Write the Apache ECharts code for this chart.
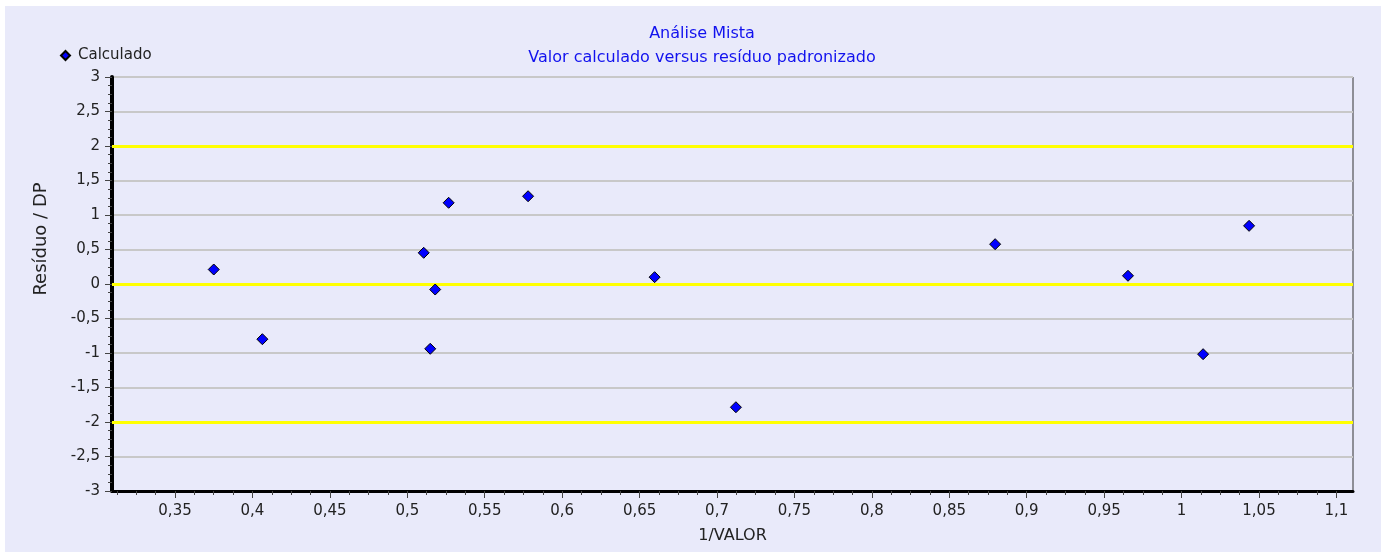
<!DOCTYPE html>
<html>
<head>
<meta charset="utf-8">
<script src="https://cdn.jsdelivr.net/npm/echarts@6/dist/echarts.min.js"></script>
<style>
  html, body { margin: 0; padding: 0; background: #ffffff; }
  #panel { position: absolute; left: 5px; top: 6px; width: 1376px; height: 546px; background: #E9EAFA; }
  #chart { position: absolute; left: 0; top: 0; width: 1387px; height: 552px; }
</style>
</head>
<body>
<div id="panel"></div>
<div id="chart"></div>
<script>
// ---- data ----
var titleLines = ['Análise Mista', 'Valor calculado versus resíduo padronizado'];
var seriesName = 'Calculado';
var xName = '1/VALOR';
var yName = 'Resíduo / DP';
var xValues = [0.375, 0.4064, 0.5106, 0.518, 0.5148, 0.5267, 0.578, 0.6597, 0.7122, 0.8796, 0.9654, 1.0139, 1.0436];
var yValues = [0.21, -0.80, 0.452, -0.08, -0.939, 1.177, 1.272, 0.099, -1.786, 0.577, 0.119, -1.017, 0.843];
var xTicks = [0.35, 0.4, 0.45, 0.5, 0.55, 0.6, 0.65, 0.7, 0.75, 0.8, 0.85, 0.9, 0.95, 1, 1.05, 1.1];
var yTicks = [-3, -2.5, -2, -1.5, -1, -0.5, 0, 0.5, 1, 1.5, 2, 2.5, 3];
var limitLines = [2, 0, -2];
var xMin = 0.3093, xMax = 1.1107;

// minor x ticks: 4 subdivisions of each major step
var xMinor = [];
var step = xTicks[1] - xTicks[0];
for (var v = xTicks[0] - step; v <= xMax + 1e-9; v += step / 4) {
  var r = Math.round(v * 10000) / 10000;
  if (r >= xMin && r <= xMax) xMinor.push(r);
}

function fmt(v) { return String(+(+v).toFixed(4)).replace('.', ','); }

var FONT = 'DejaVu Sans';
var chart = echarts.init(document.getElementById('chart'), null, { renderer: 'canvas' });
var points = xValues.map(function (x, i) { return [x, yValues[i]]; });

chart.setOption({
  backgroundColor: 'transparent',
  animation: false,
  title: {
    text: titleLines.join('\n'),
    left: 697,
    textAlign: 'center',
    top: 17,
    textStyle: { fontFamily: FONT, fontSize: 16, fontWeight: 'normal', color: '#1212EE', lineHeight: 24 }
  },
  legend: {
    data: [seriesName],
    left: 55,
    top: 43,
    icon: 'diamond',
    itemWidth: 9,
    itemHeight: 9,
    textStyle: { fontFamily: FONT, fontSize: 15, color: '#222', padding: [0, 0, 0, 3] }
  },
  grid: {
    left: 112, top: 77, right: 34, bottom: 61,
    show: true, borderColor: '#333', borderWidth: 1, backgroundColor: 'transparent'
  },
  xAxis: [{
    type: 'value',
    min: xMin, max: xMax,
    name: xName,
    nameLocation: 'middle',
    nameGap: 37,
    nameTextStyle: { fontFamily: FONT, fontSize: 16, color: '#222' },
    axisLine: { show: true, onZero: false, lineStyle: { color: '#000', width: 3 } },
    axisTick: { show: true, customValues: xTicks, length: 7, lineStyle: { color: '#444', width: 1 } },
    axisLabel: { show: true, customValues: xTicks, margin: 13, formatter: fmt,
      fontFamily: FONT, fontSize: 15, color: '#222' },
    splitLine: { show: false }
  }, {
    type: 'value',
    min: xMin, max: xMax,
    position: 'bottom',
    axisLine: { show: false, onZero: false },
    axisTick: { show: true, customValues: xMinor, length: 4, lineStyle: { color: '#444', width: 1 } },
    axisLabel: { show: false },
    splitLine: { show: false }
  }],
  yAxis: [{
    type: 'value',
    min: yTicks[0], max: yTicks[yTicks.length - 1],
    interval: yTicks[1] - yTicks[0],
    name: yName,
    nameLocation: 'middle',
    nameGap: 62,
    nameRotate: 90,
    nameTextStyle: { fontFamily: FONT, fontSize: 18, color: '#222', padding: [0, 0, 0, 90] },
    axisLine: { show: true, onZero: false, lineStyle: { color: '#000', width: 4 } },
    axisTick: { show: true, length: 7, lineStyle: { color: '#444', width: 1 } },
    minorTick: { show: true, splitNumber: 4, length: 4, lineStyle: { color: '#444', width: 1 } },
    axisLabel: { margin: 12, formatter: fmt, fontFamily: FONT, fontSize: 15, color: '#222' },
    splitLine: { show: true, lineStyle: { color: '#C8C8C8', width: 2 } }
  }],
  series: [{
    name: 'limits',
    type: 'scatter',
    data: [],
    z: 1,
    silent: true,
    markLine: {
      silent: true,
      symbol: ['none', 'none'],
      label: { show: false },
      lineStyle: { color: '#FFFF00', width: 3, type: 'solid' },
      data: limitLines.map(function (y) { return { yAxis: y }; })
    }
  }, {
    name: seriesName,
    type: 'scatter',
    z: 5,
    symbol: 'diamond',
    symbolSize: 11,
    itemStyle: { color: '#0000FF', borderColor: '#000', borderWidth: 1, opacity: 1 },
    data: points
  }]
});
</script>
</body>
</html>
